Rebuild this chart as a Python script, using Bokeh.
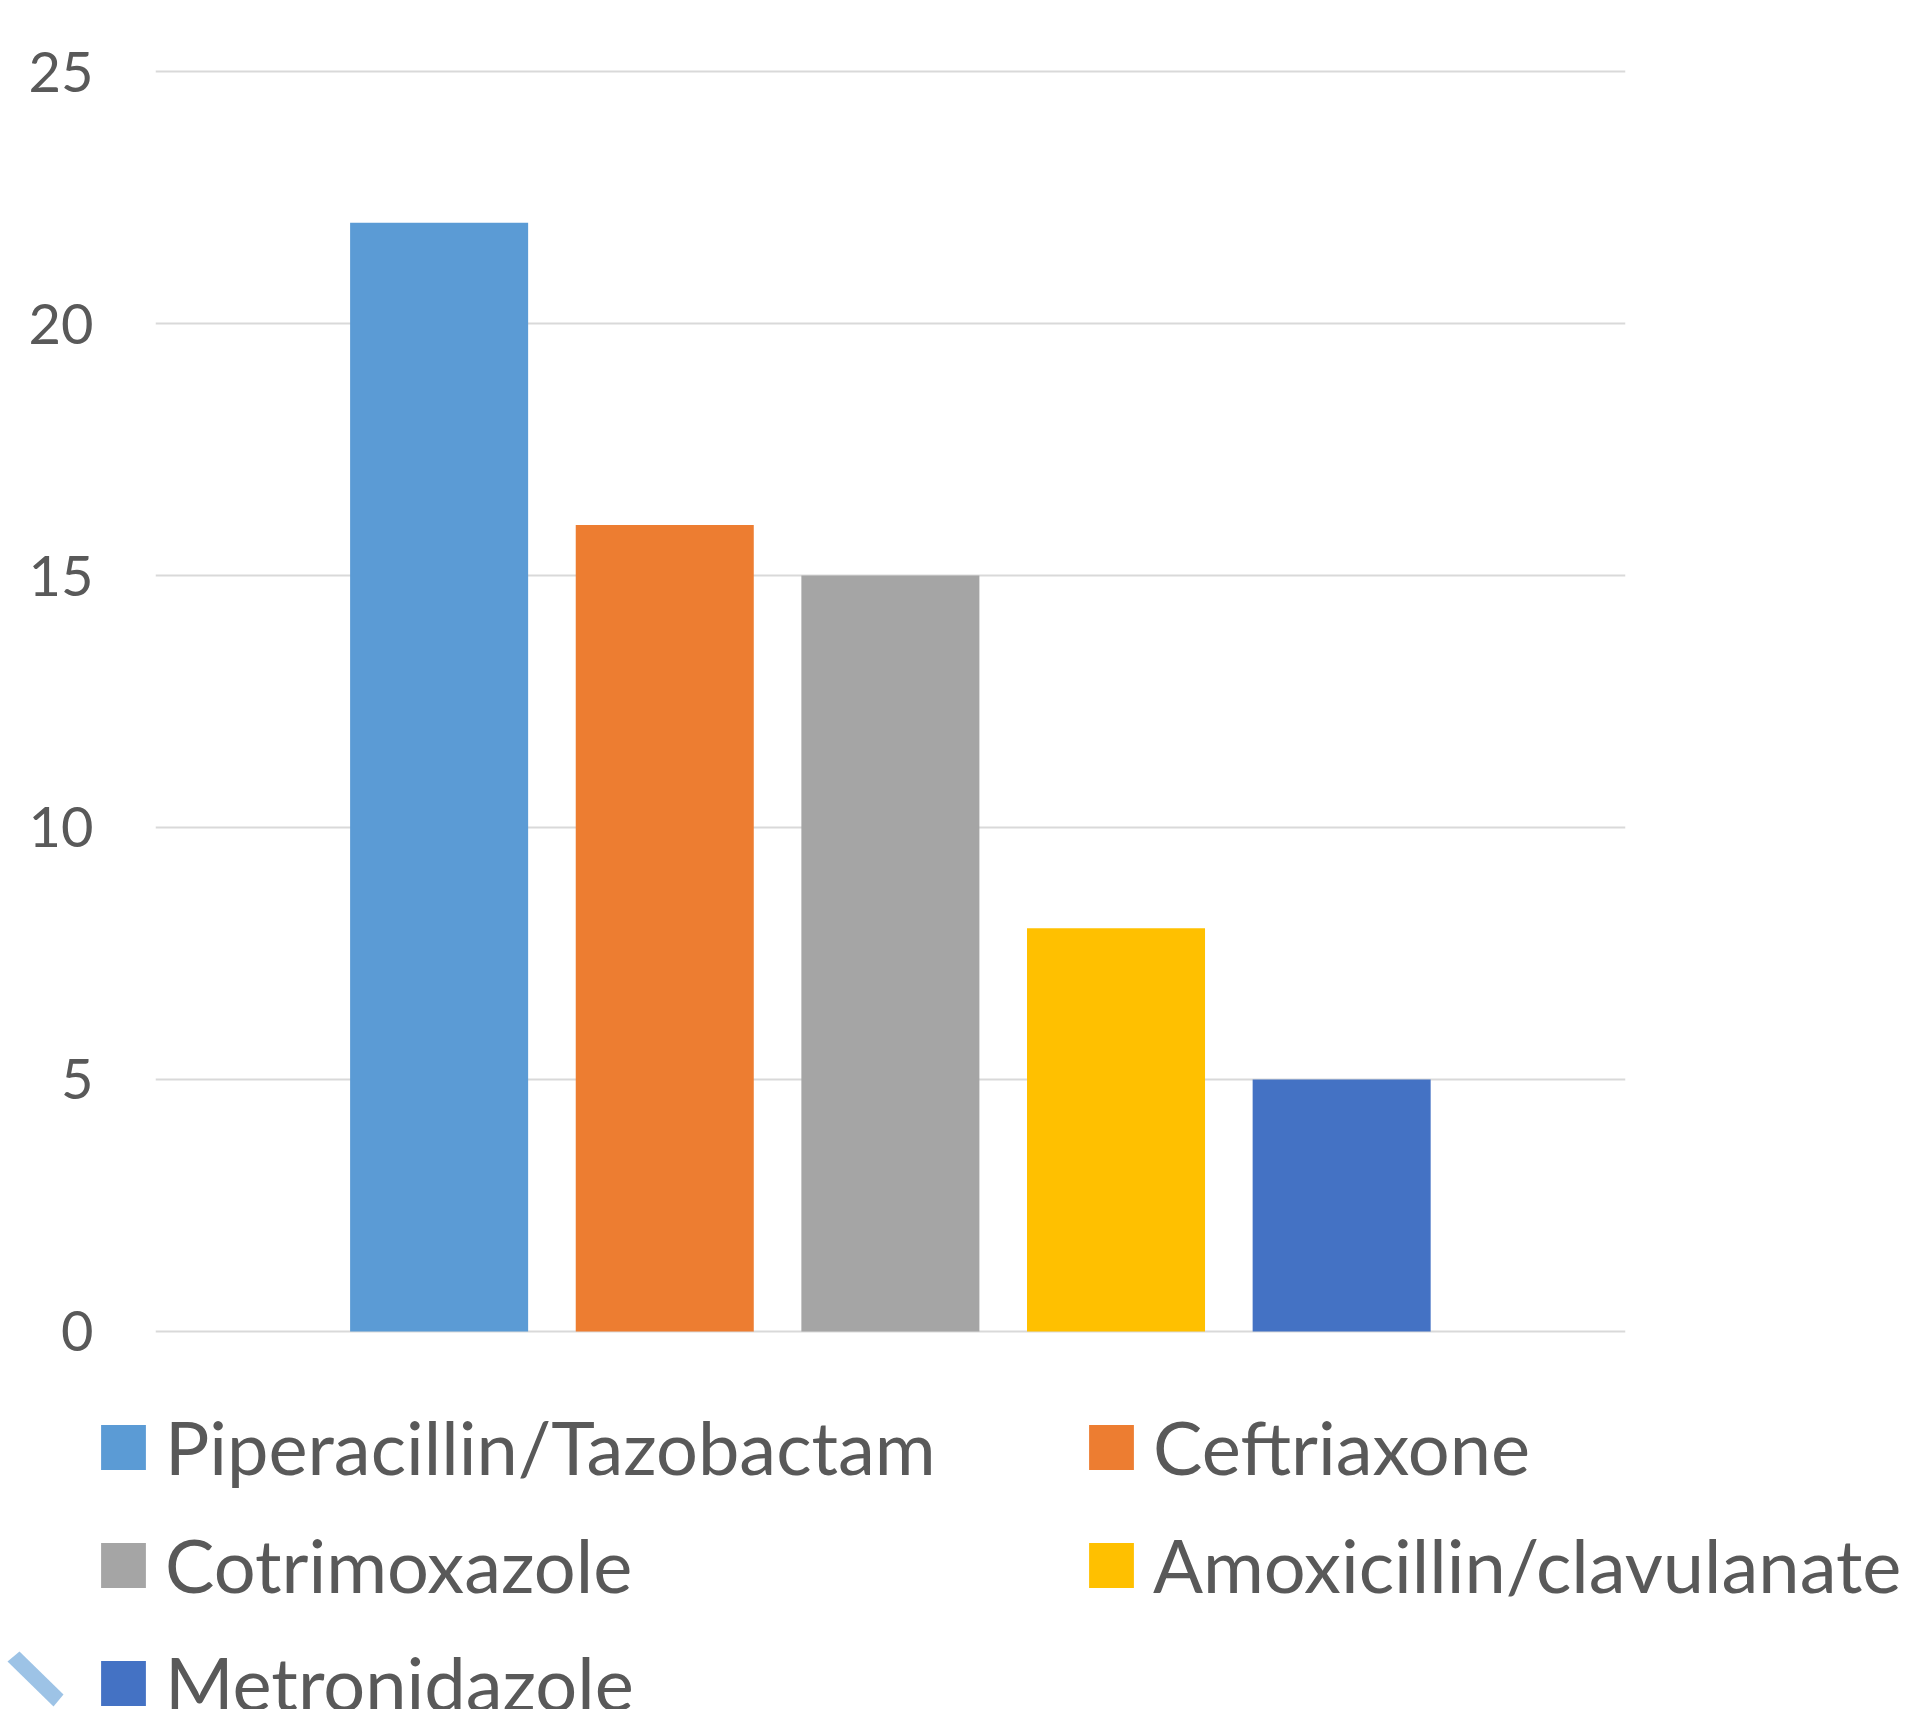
from bokeh.plotting import figure
from bokeh.models import ColumnDataSource, Legend, LegendItem, FixedTicker, Range1d, PolyAnnotation
from bokeh.embed import file_html
from bokeh.resources import INLINE

drugs = ["Piperacillin/Tazobactam", "Ceftriaxone", "Cotrimoxazole",
         "Amoxicillin/clavulanate", "Metronidazole"]
counts = [22, 16, 15, 8, 5]
colors = ["#5B9BD5", "#ED7D31", "#A5A5A5", "#FFC000", "#4472C4"]
y_ticks = [0, 5, 10, 15, 20, 25]

src = ColumnDataSource(dict(x=list(range(len(drugs))), top=counts, color=colors, name=drugs))

TXT = "#595959"

# ---- chart ----
p = figure(width=1914, height=1380, output_backend="svg", toolbar_location=None,
           x_range=Range1d(-1.257, 5.258), y_range=Range1d(-0.04, 25.04),
           min_border_left=155, min_border_right=289, min_border_top=69, min_border_bottom=47)
p.outline_line_color = None
r = p.vbar(x="x", top="top", bottom=0, width=0.789, fill_color="color", line_color=None, source=src)
p.xaxis.visible = False
p.xgrid.visible = False
p.ygrid.grid_line_color = "#D9D9D9"
p.ygrid.grid_line_width = 2
p.ygrid.ticker = FixedTicker(ticks=y_ticks)
yax = p.yaxis[0]
yax.ticker = FixedTicker(ticks=y_ticks)
yax.axis_line_color = None
yax.major_tick_line_color = None
yax.minor_tick_line_color = None
yax.major_tick_out = 0
yax.major_tick_in = 0
yax.major_label_standoff = 62
yax.major_label_text_font = "Lato"
yax.major_label_text_font_size = "56px"
yax.major_label_text_color = TXT

# ---- legend panel (separate root, frame = whole canvas) ----
q = figure(width=1914, height=329, output_backend="svg", toolbar_location=None,
           x_range=Range1d(0, 1), y_range=Range1d(100, 101),
           min_border=0)
q.outline_line_color = None
q.axis.visible = False
q.grid.visible = False
rq = q.vbar(x="x", top="top", bottom=0, width=0.789, fill_color="color", line_color=None, source=src)

# legend fills column by column: reorder so that it reads row by row like the original
order = [0, 2, 4, 1, 3]
items = [LegendItem(label=drugs[i], renderers=[rq], index=i) for i in order]
legend = Legend(items=items, ncols=2, location=(95, -18),
                glyph_width=56, glyph_height=56, label_standoff=14,
                label_width=889, label_height=56, spacing=29, padding=0, margin=0,
                border_line_color=None, background_fill_alpha=0,
                label_text_font="Lato", label_text_font_size="74px",
                label_text_color=TXT)
q.add_layout(legend, "center")

q.add_layout(PolyAnnotation(xs=[7, 19, 63, 53], ys=[48, 58, 15, 3],
                            xs_units="screen", ys_units="screen",
                            fill_color="#9DC3E6", line_color=None, fill_alpha=1))

open("out.html", "w").write(file_html([p, q], INLINE))
